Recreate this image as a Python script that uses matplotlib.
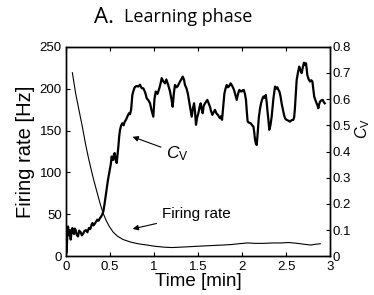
import numpy as np
import matplotlib
matplotlib.use("Agg")
import matplotlib.pyplot as plt

plt.rcParams['font.family'] = ['Liberation Sans', 'DejaVu Sans']
plt.rcParams['mathtext.fontset'] = 'custom'
plt.rcParams['mathtext.rm'] = 'Liberation Sans'
plt.rcParams['mathtext.it'] = 'Liberation Sans:italic'

# firing rate curve [Hz] vs time [min]
fr_time = [0.072, 0.11, 0.15, 0.185, 0.22, 0.26, 0.31, 0.356, 0.39, 0.42, 0.455, 0.49,
           0.535, 0.585, 0.65, 0.735, 0.82, 0.92, 1.01, 1.11, 1.2, 1.31, 1.4, 1.49, 1.58,
           1.68, 1.78, 1.87, 1.96, 2.06, 2.15, 2.25, 2.35, 2.44, 2.53, 2.63, 2.7, 2.78,
           2.84, 2.89]
fr_rate = [219, 194, 173, 155, 135, 115, 93, 75, 62, 52, 43, 36,
           29, 24, 20, 17, 15, 13.5, 12, 11, 10.5, 11, 11.5, 12, 12.5,
           13, 13.5, 14, 15, 16, 15.5, 15.5, 16, 16, 16.5, 15.5, 14.5, 13.5,
           14.5, 15]

# coefficient of variation vs time [min]
cv_time = [0.008, 0.015, 0.023, 0.035, 0.045, 0.053, 0.062, 0.072, 0.08, 0.09, 0.1, 0.11,
           0.122, 0.136, 0.15, 0.167, 0.18, 0.197, 0.21, 0.227, 0.243, 0.26, 0.275, 0.29,
           0.3, 0.312, 0.326, 0.34, 0.356, 0.37, 0.386, 0.4, 0.412, 0.424, 0.437, 0.45,
           0.462, 0.477, 0.487, 0.496, 0.508, 0.519, 0.528, 0.538, 0.545, 0.553, 0.565,
           0.576, 0.586, 0.595, 0.605, 0.614, 0.627, 0.64, 0.655, 0.667, 0.68, 0.697,
           0.706, 0.716, 0.727, 0.74, 0.754, 0.765, 0.78, 0.8, 0.822, 0.84, 0.86, 0.879,
           0.9, 0.917, 0.935, 0.955, 0.97, 0.992, 1.005, 1.02, 1.04, 1.06, 1.075, 1.087,
           1.105, 1.125, 1.14, 1.16, 1.182, 1.198, 1.212, 1.225, 1.238, 1.255, 1.27,
           1.295, 1.31, 1.326, 1.34, 1.352, 1.37, 1.385, 1.4, 1.415, 1.428, 1.44, 1.455,
           1.466, 1.477, 1.49, 1.504, 1.518, 1.53, 1.542, 1.553, 1.565, 1.58, 1.592,
           1.606, 1.62, 1.636, 1.65, 1.663, 1.678, 1.693, 1.71, 1.725, 1.75, 1.762,
           1.773, 1.786, 1.8, 1.813, 1.826, 1.84, 1.855, 1.87, 1.883, 1.896, 1.909,
           1.925, 1.94, 1.955, 1.97, 1.984, 1.996, 2.008, 2.02, 2.033, 2.045, 2.055,
           2.064, 2.08, 2.098, 2.115, 2.13, 2.14, 2.148, 2.158, 2.167, 2.178, 2.19,
           2.203, 2.216, 2.23, 2.243, 2.257, 2.27, 2.28, 2.288, 2.3, 2.31, 2.323, 2.337,
           2.356, 2.375, 2.39, 2.402, 2.414, 2.425, 2.438, 2.45, 2.465, 2.477, 2.492,
           2.507, 2.525, 2.545, 2.565, 2.583, 2.592, 2.6, 2.611, 2.621, 2.635, 2.65,
           2.664, 2.678, 2.69, 2.704, 2.716, 2.727, 2.735, 2.742, 2.758, 2.773, 2.787,
           2.8, 2.81, 2.82, 2.835, 2.848, 2.858, 2.867, 2.876, 2.886, 2.9, 2.917, 2.93,
           2.94]
cv_value = [0.015, 0.09, 0.114, 0.08, 0.1, 0.064, 0.09, 0.108, 0.094, 0.085, 0.106, 0.1,
            0.082, 0.076, 0.098, 0.092, 0.08, 0.088, 0.097, 0.1, 0.092, 0.108, 0.104, 0.12,
            0.127, 0.118, 0.124, 0.132, 0.14, 0.136, 0.146, 0.152, 0.16, 0.171, 0.198, 0.229,
            0.26, 0.292, 0.31, 0.324, 0.35, 0.381, 0.37, 0.368, 0.39, 0.394, 0.37,
            0.356, 0.39, 0.419, 0.46, 0.483, 0.5, 0.508, 0.5, 0.514, 0.52, 0.533,
            0.54, 0.546, 0.542, 0.56, 0.616, 0.63, 0.645, 0.65, 0.648, 0.655, 0.642, 0.641,
            0.625, 0.603, 0.596, 0.584, 0.56, 0.533, 0.6, 0.629, 0.62, 0.641, 0.66, 0.68,
            0.668, 0.66, 0.675, 0.655, 0.629, 0.6, 0.571, 0.62, 0.654, 0.645, 0.65,
            0.667, 0.675, 0.686, 0.675, 0.654, 0.64, 0.62, 0.59, 0.56, 0.533, 0.56, 0.584,
            0.552, 0.502, 0.53, 0.546, 0.57, 0.584, 0.56, 0.546, 0.575, 0.584, 0.59,
            0.597, 0.585, 0.571, 0.552, 0.54, 0.55, 0.559, 0.545, 0.54, 0.527, 0.535,
            0.521, 0.57, 0.622, 0.64, 0.654, 0.645, 0.65, 0.66, 0.654, 0.645, 0.635,
            0.615, 0.597, 0.62, 0.635, 0.63, 0.629, 0.634, 0.635, 0.62, 0.597, 0.55,
            0.514, 0.51, 0.508, 0.5, 0.495, 0.47, 0.445, 0.43, 0.425, 0.47, 0.527,
            0.56, 0.584, 0.6, 0.61, 0.605, 0.616, 0.59, 0.559, 0.52, 0.483, 0.5, 0.533,
            0.6, 0.648, 0.64, 0.645, 0.635, 0.629, 0.61, 0.584, 0.56, 0.54, 0.525,
            0.521, 0.518, 0.514, 0.52, 0.521, 0.53, 0.559, 0.62, 0.673, 0.7, 0.724,
            0.71, 0.699, 0.72, 0.739, 0.73, 0.737, 0.715, 0.692, 0.675, 0.667, 0.672,
            0.667, 0.64, 0.61, 0.595, 0.584, 0.575, 0.565, 0.58, 0.59, 0.595, 0.597, 0.588,
            0.584]

fig = plt.figure(figsize=(3.74, 2.95), dpi=100)
ax = fig.add_axes([0.1765, 0.131, 0.7059, 0.7107])
ax2 = ax.twinx()

ax.plot(fr_time, fr_rate, color='black', linewidth=0.8)
ax2.plot(cv_time, cv_value, color='black', linewidth=1.6)

ax.set_xlim(0, 3)
ax.set_ylim(0, 250)
ax2.set_ylim(0, 0.8)
ax.set_xticks(np.arange(0, 3.01, 0.5))
ax.set_xticklabels(['0', '0.5', '1', '1.5', '2', '2.5', '3'])
ax.set_yticks(np.arange(0, 251, 50))
ax2.set_yticks(np.arange(0, 0.81, 0.1))
ax2.set_yticklabels(['0', '0.1', '0.2', '0.3', '0.4', '0.5', '0.6', '0.7', '0.8'])

ax.tick_params(axis='x', direction='in', top=True, length=3, labelsize=9.5, pad=3)
ax.tick_params(axis='y', direction='in', length=3, labelsize=9.5, pad=3)
ax2.tick_params(axis='y', direction='in', length=3, labelsize=9.5, pad=2)
for a in (ax, ax2):
    for s in a.spines.values():
        s.set_linewidth(1.0)

ax.set_xlabel('Time [min]', fontsize=13.5, labelpad=0)
ax.set_ylabel('Firing rate [Hz]', fontsize=14.5, labelpad=3)
ax2.set_ylabel(r'$C_{\mathrm{V}}$', fontsize=11.5, rotation=90)
ax2.yaxis.set_label_coords(1.088, 0.61)

arrow = dict(arrowstyle='-|>', color='black', linewidth=0.8, mutation_scale=8)
ax.annotate(r'$C_{\mathrm{V}}$', xy=(0.727, 143.7), xytext=(1.14, 123),
            fontsize=12.5, va='center', ha='left', arrowprops=arrow)
ax.annotate('Firing rate', xy=(0.727, 32), xytext=(1.09, 50),
            fontsize=11, va='center', ha='left', arrowprops=arrow)

fig.text(0.252, 0.942, 'A.', fontsize=16, family='Open Sans', va='center')
fig.text(0.331, 0.942, 'Learning phase', fontsize=13, family='Open Sans', va='center')

fig.savefig('out.png', dpi=100)
